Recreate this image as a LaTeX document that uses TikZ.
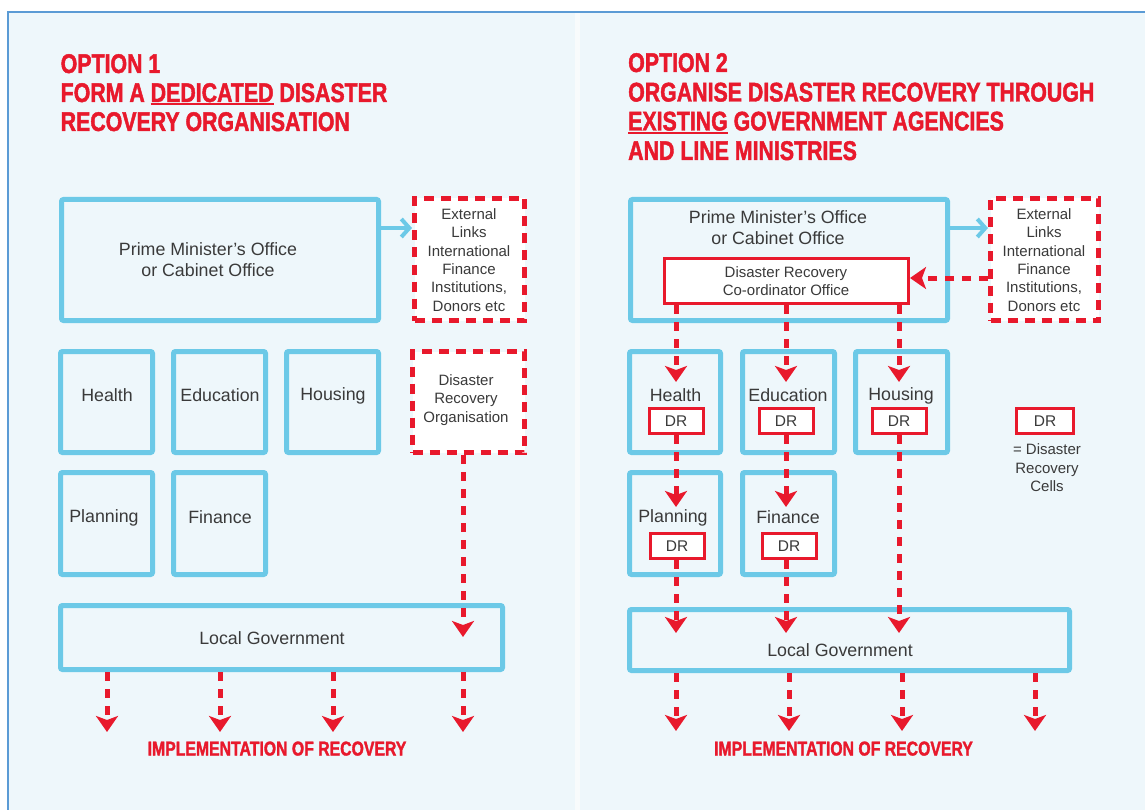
\documentclass[tikz,border=0pt]{standalone}
\usepackage{fontspec}
\setmainfont{Liberation Sans}
\newfontfamily\titlefont{Liberation Sans}[FakeStretch=0.79,BoldFeatures={FakeBold=1.6}]
\usetikzlibrary{arrows.meta}
\definecolor{panelbg}{HTML}{EEF7FB}
\definecolor{stripe}{HTML}{F8FBFC}
\definecolor{edgeblue}{HTML}{5B9BD5}
\definecolor{boxblue}{HTML}{6CC9E7}
\definecolor{dred}{HTML}{E8192C}
\definecolor{txt}{HTML}{3A3A3A}
\newcommand\redul[1]{\setbox0=\hbox{#1}\rlap{\rule[-3.5pt]{\wd0}{2pt}}\box0\relax}
\tikzset{
 bluebox/.style={draw=boxblue, line width=5pt, rounded corners=2pt, inner sep=0pt},
 redbox/.style={draw=dred, fill=white, line width=5pt, dash pattern=on 10pt off 7pt, inner sep=0pt},
 coordbox/.style={draw=dred, fill=white, line width=3pt, inner sep=0pt},
 drbox/.style={draw=dred, fill=white, line width=3pt, minimum width=54pt, minimum height=25pt, inner sep=0pt, text=txt, font=\fontsize{15.5}{18}\selectfont},
 lbl/.style={inner sep=0pt, text=txt, font=\fontsize{17.8}{21}\selectfont, align=center},
 slbl/.style={inner sep=0pt, text=txt, font=\fontsize{15}{18.4}\selectfont, align=center},
 ttl/.style={inner sep=0pt, anchor=base west, text=dred, font=\titlefont\bfseries\fontsize{27}{29}\selectfont},
 impl/.style={inner sep=0pt, anchor=base, text=dred, font=\titlefont\bfseries\fontsize{20}{22}\selectfont},
 redflow/.style={draw=dred, line width=5pt, dash pattern=on 9pt off 8pt, -{Stealth[length=16pt,width=22pt,inset=4pt]}},
 blueflow/.style={draw=boxblue, line width=4.5pt, -{Straight Barb[length=8pt,width=18pt,line width=4pt]}},
}
\begin{document}
\begin{tikzpicture}[x=1pt,y=-1pt]
\useasboundingbox (0,0) rectangle (1145,810);
% background
\fill[white] (0,0) rectangle (1145,810);
\fill[panelbg] (8,12) rectangle (1145,810);
\fill[stripe] (575,13) rectangle (580,810);
\draw[edgeblue, line width=2pt] (8,810) -- (8,12) -- (1145,12);

% ================= OPTION 1 =================
\node[ttl] (t1a) at (60.5,73) {OPTION 1};
\node[ttl] (t1b) at (60.5,102) {FORM A \redul{DEDICATED} DISASTER};
\node[ttl] (t1c) at (60.5,131) {RECOVERY ORGANISATION};

\node[bluebox, minimum width=317pt, minimum height=121pt] (pm1) at (220,260) {};
\node[lbl] (pm1t) at (208,260) {Prime Minister’s Office\\or Cabinet Office};
\node[redbox, minimum width=110pt, minimum height=122pt] (ext1) at (469.5,259.5) {};
\node[slbl] (ext1t) at (469,260) {External\\Links\\International\\Finance\\Institutions,\\Donors etc};

\node[bluebox, minimum width=92pt, minimum height=101pt] (h1) at (106.5,402) {};
\node[bluebox, minimum width=92pt, minimum height=101pt] (e1) at (219.5,402) {};
\node[bluebox, minimum width=92pt, minimum height=101pt] (hs1) at (332.5,402) {};
\node[bluebox, minimum width=92pt, minimum height=102pt] (p1) at (106.5,523.5) {};
\node[bluebox, minimum width=92pt, minimum height=102pt] (f1) at (219.5,523.5) {};
\node[lbl] (h1t) at (107,395) {Health};
\node[lbl] (e1t) at (220,395) {Education};
\node[lbl] (hs1t) at (333,396) {Housing};
\node[lbl] (p1t) at (104,518) {Planning};
\node[lbl] (f1t) at (220,517) {Finance};

\node[redbox, minimum width=112pt, minimum height=101pt] (dro) at (468.5,402) {};
\node[slbl] (drot) at (466,400) {Disaster\\Recovery\\Organisation};

\node[bluebox, minimum width=442pt, minimum height=64pt] (lg1) at (281.5,637.5) {};
\node[lbl] (lg1t) at (272,638) {Local Government};

\node[impl] (im1) at (277,755.5) {IMPLEMENTATION OF RECOVERY};

\coordinate (tipL) at (463,637);
\coordinate (i1) at (107,732);
\coordinate (i2) at (220,732);
\coordinate (i3) at (333,732);
\coordinate (i4) at (463,732);
\coordinate (bl1) at (0,228);

\draw[blueflow] (pm1.east |- bl1) -- (ext1.west |- bl1);
\draw[redflow] (dro.south -| tipL) -- (tipL);
\foreach \c in {i1,i2,i3,i4} \draw[redflow] (lg1.south -| \c) -- (\c);

% ================= OPTION 2 =================
\node[ttl] (t2a) at (628,72) {OPTION 2};
\node[ttl] (t2b) at (628,101.5) {ORGANISE DISASTER RECOVERY THROUGH};
\node[ttl] (t2c) at (628,130.5) {\redul{EXISTING} GOVERNMENT AGENCIES};
\node[ttl] (t2d) at (628,160) {AND LINE MINISTRIES};

\node[bluebox, minimum width=317pt, minimum height=121pt] (pm2) at (789,260) {};
\node[lbl] (pm2t) at (778,228) {Prime Minister’s Office\\or Cabinet Office};
\node[coordbox, minimum width=244pt, minimum height=45pt] (coord) at (786.5,281) {};
\node[slbl] (coordt) at (786,281) {Disaster Recovery\\Co-ordinator Office};
\node[redbox, minimum width=108pt, minimum height=122pt] (ext2) at (1044.5,259.5) {};
\node[slbl] (ext2t) at (1044,260) {External\\Links\\International\\Finance\\Institutions,\\Donors etc};

\node[bluebox, minimum width=91pt, minimum height=101pt] (h2) at (675,402) {};
\node[bluebox, minimum width=92pt, minimum height=101pt] (e2) at (788.5,402) {};
\node[bluebox, minimum width=92pt, minimum height=101pt] (hs2) at (901.5,402) {};
\node[bluebox, minimum width=91pt, minimum height=102pt] (p2) at (675,523.5) {};
\node[bluebox, minimum width=92pt, minimum height=102pt] (f2) at (788.5,523.5) {};
\node[lbl] (h2t) at (675.5,395) {Health};
\node[lbl] (e2t) at (788,395) {Education};
\node[lbl] (hs2t) at (901,396) {Housing};
\node[lbl] (p2t) at (673,518) {Planning};
\node[lbl] (f2t) at (788,517) {Finance};
\node[drbox] (drh) at (676,421) {DR};
\node[drbox] (dre) at (786,421) {DR};
\node[drbox] (drhs) at (899,421) {DR};
\node[drbox] (drp) at (677,546) {DR};
\node[drbox] (drf) at (789,546) {DR};

\node[drbox, minimum width=57pt] (drleg) at (1045,421) {DR};
\node[slbl] (legt) at (1047,468) {= Disaster\\Recovery\\Cells};

\node[bluebox, minimum width=440pt, minimum height=61pt] (lg2) at (849.5,640) {};
\node[lbl] (lg2t) at (840,650) {Local Government};

\node[impl] (im2) at (843.5,755.5) {IMPLEMENTATION OF RECOVERY};

\coordinate (bl2) at (0,228);
\coordinate (rl2) at (0,278);
\coordinate (tH) at (676,382);
\coordinate (tE) at (786,382);
\coordinate (tHs) at (899,382);
\coordinate (tP) at (676,507);
\coordinate (tF) at (786,507);
\coordinate (gP) at (676,633);
\coordinate (gF) at (786,633);
\coordinate (gHs) at (899,633);
\coordinate (j1) at (676,731);
\coordinate (j2) at (789,731);
\coordinate (j3) at (902,731);
\coordinate (j4) at (1035,731);

\draw[blueflow] (pm2.east |- bl2) -- (ext2.west |- bl2);
\draw[redflow] (ext2.west |- rl2) -- (coord.east |- rl2);
\foreach \c in {tH,tE,tHs} \draw[redflow] (coord.south -| \c) -- (\c);
\draw[redflow] (drh.south -| tP) -- (tP);
\draw[redflow] (dre.south -| tF) -- (tF);
\draw[redflow] (drp.south -| gP) -- (gP);
\draw[redflow] (drf.south -| gF) -- (gF);
\draw[redflow] (drhs.south -| gHs) -- (gHs);
\foreach \c in {j1,j2,j3,j4} \draw[redflow] (lg2.south -| \c) -- (\c);
\end{tikzpicture}
\end{document}
